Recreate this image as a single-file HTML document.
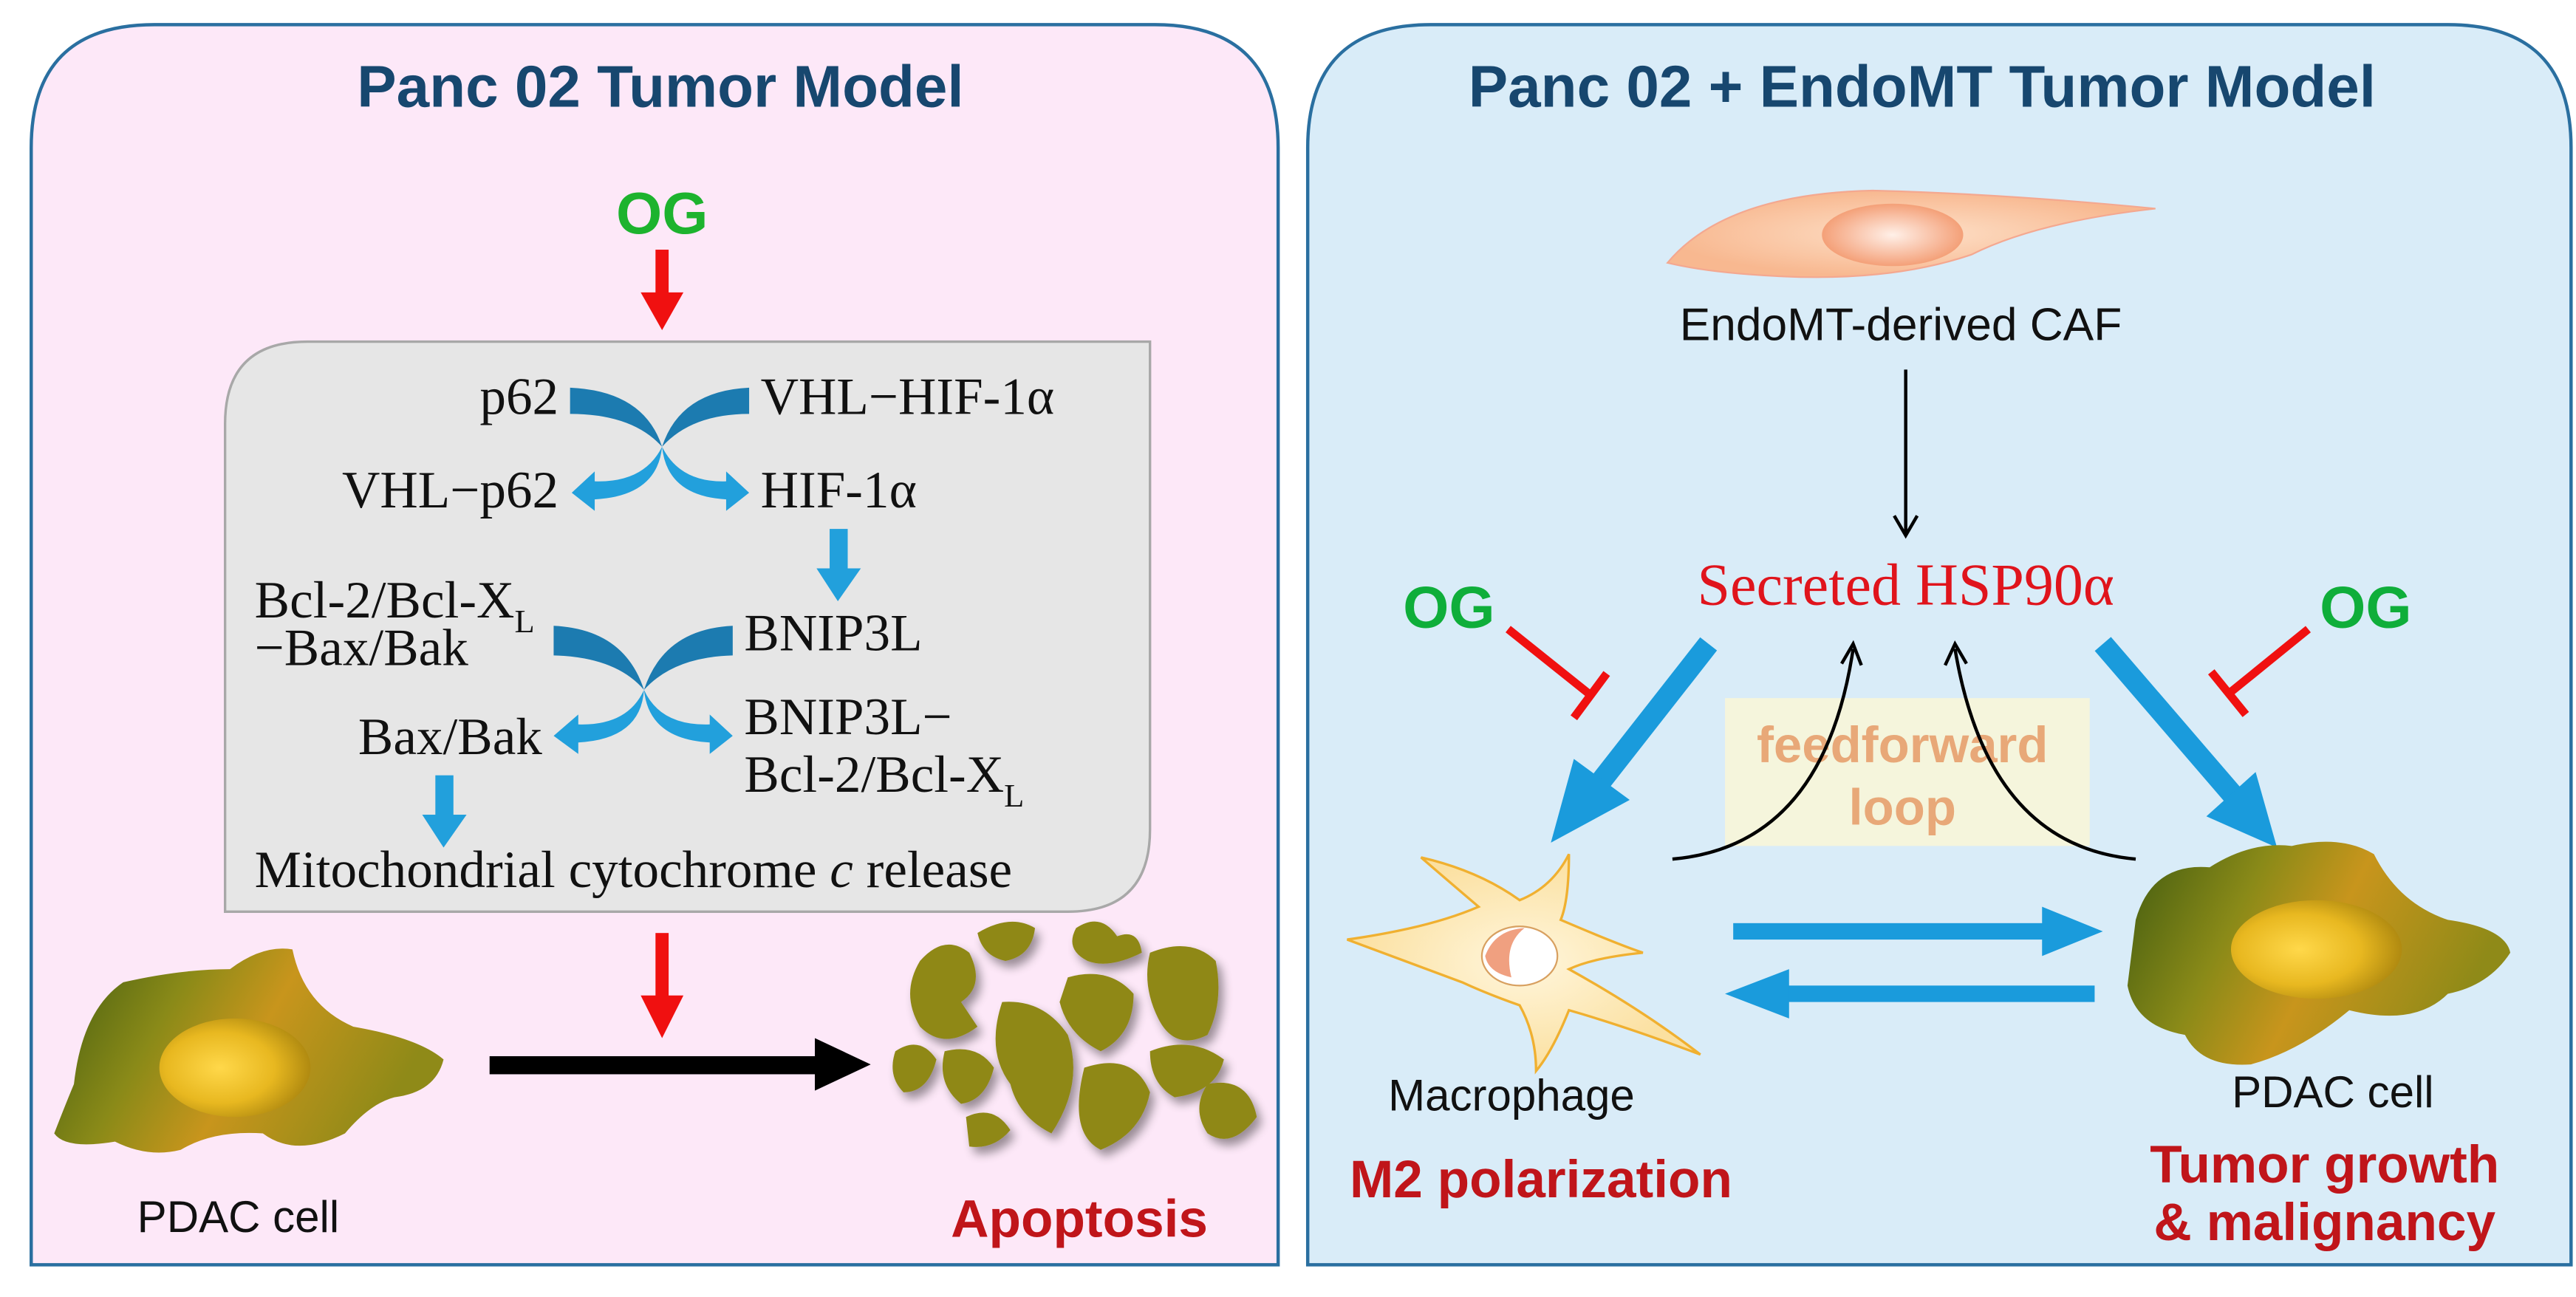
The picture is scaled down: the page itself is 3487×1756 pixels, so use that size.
<!DOCTYPE html>
<html><head><meta charset="utf-8"><style>html,body{margin:0;padding:0;background:#fff}svg{display:block}</style></head>
<body>
<svg width="3487" height="1756" viewBox="0 0 1568 789.6" preserveAspectRatio="none" xmlns="http://www.w3.org/2000/svg">
<defs>
<linearGradient id="cell" x1="0" y1="0" x2="1" y2="0.3">
<stop offset="0" stop-color="#3f5a10"/><stop offset="0.35" stop-color="#8a8a18"/><stop offset="0.6" stop-color="#c8951c"/><stop offset="1" stop-color="#8f8a18"/></linearGradient>
<radialGradient id="nuc" cx="0.4" cy="0.5" r="0.6"><stop offset="0" stop-color="#ffd84a"/><stop offset="0.6" stop-color="#e8b820"/><stop offset="1" stop-color="#b08a10"/></radialGradient>
<radialGradient id="caf" cx="0.5" cy="0.5" r="0.5"><stop offset="0" stop-color="#fde0c8"/><stop offset="1" stop-color="#f8b890"/></radialGradient>
<radialGradient id="cafn" cx="0.5" cy="0.5" r="0.5"><stop offset="0" stop-color="#fff0e8"/><stop offset="1" stop-color="#f4a078"/></radialGradient>
<radialGradient id="mac" cx="0.5" cy="0.5" r="0.5"><stop offset="0" stop-color="#fff6dc"/><stop offset="1" stop-color="#fbe0a0"/></radialGradient>
<filter id="sh" x="-20%" y="-20%" width="140%" height="140%"><feGaussianBlur in="SourceAlpha" stdDeviation="3"/><feOffset dx="3" dy="4"/><feComponentTransfer><feFuncA type="linear" slope="0.4"/></feComponentTransfer><feMerge><feMergeNode/><feMergeNode in="SourceGraphic"/></feMerge></filter>
</defs>
<path d="M19,770 L19,90 Q19,15 94,15 L703,15 Q778,15 778,90 L778,770 Z" fill="#fde8f8" stroke="#2a6fa0" stroke-width="2"/>
<path d="M796,770 L796,90 Q796,15 871,15 L1490,15 Q1565,15 1565,90 L1565,770 Z" fill="#d9ecf8" stroke="#2a6fa0" stroke-width="2"/>
<g font-family="Liberation Sans, sans-serif" font-weight="bold">
<text x="402" y="65" font-size="36" fill="#17476f" text-anchor="middle">Panc 02 Tumor Model</text>
<text x="1170" y="65" font-size="36" fill="#17476f" text-anchor="middle">Panc 02 + EndoMT Tumor Model</text>
<text x="403" y="142" font-size="36" fill="#1db32e" text-anchor="middle">OG</text>
<text x="882" y="382" font-size="36" fill="#0fae3a" text-anchor="middle">OG</text>
<text x="1440" y="382" font-size="36" fill="#0fae3a" text-anchor="middle">OG</text>
<text x="657" y="753" font-size="32" fill="#c0151a" text-anchor="middle">Apoptosis</text>
<text x="938" y="729" font-size="32" fill="#c0151a" text-anchor="middle">M2 polarization</text>
<text x="1415" y="720" font-size="32" fill="#c0151a" text-anchor="middle">Tumor growth</text>
<text x="1415" y="755" font-size="32" fill="#c0151a" text-anchor="middle">&amp; malignancy</text>
</g>
<rect x="399" y="152" width="8" height="28" fill="#f01010"/><polygon points="390,178 416,178 403,201" fill="#f01010"/>
<rect x="399" y="568" width="8" height="40" fill="#f01010"/><polygon points="390,606 416,606 403,632" fill="#f01010"/>
<path d="M137,555 L137,258 Q137,208 187,208 L700,208 L700,505 Q700,555 650,555 Z" fill="#e6e6e6" stroke="#a8a8a8" stroke-width="1.5"/>
<g font-family="Liberation Serif, serif" font-size="32" fill="#111">
<text x="340" y="252" text-anchor="end">p62</text>
<text x="463" y="252">VHL−HIF-1α</text>
<text x="340" y="309" text-anchor="end">VHL−p62</text>
<text x="463" y="309">HIF-1α</text>
<text x="155" y="376">Bcl-2/Bcl-X<tspan font-size="20" dy="9">L</tspan></text>
<text x="155" y="405">−Bax/Bak</text>
<text x="453" y="396">BNIP3L</text>
<text x="330" y="459" text-anchor="end">Bax/Bak</text>
<text x="453" y="447">BNIP3L−</text>
<text x="453" y="482">Bcl-2/Bcl-X<tspan font-size="20" dy="9">L</tspan></text>
<text x="155" y="540">Mitochondrial cytochrome <tspan font-style="italic">c</tspan> release</text>
</g>
<g>
<path d="M347,236 Q392,238 403,272 Q385,252 347,252 Z" fill="#1c7bb0"/>
<path d="M456,236 Q414,238 403,272 Q421,252 456,252 Z" fill="#1c7bb0"/>
<path d="M403,272 Q392,294 362,293 L362,287 L348,300 L362,311 L362,304 Q400,302 403,272 Z" fill="#22a0dc"/>
<path d="M403,272 Q414,294 442,293 L442,287 L456,300 L442,311 L442,304 Q406,302 403,272 Z" fill="#22a0dc"/>
<path d="M337,381 Q380,383 392,420 Q375,400 337,399 Z" fill="#1c7bb0"/>
<path d="M446,381 Q404,383 392,420 Q410,400 446,399 Z" fill="#1c7bb0"/>
<path d="M392,420 Q382,442 352,441 L352,435 L337,448 L352,459 L352,452 Q390,450 392,420 Z" fill="#22a0dc"/>
<path d="M392,420 Q402,442 432,441 L432,435 L446,448 L432,459 L432,452 Q395,450 392,420 Z" fill="#22a0dc"/>
<rect x="505" y="322" width="11" height="26" fill="#22a0dc"/><polygon points="497,346 524,346 510,366" fill="#22a0dc"/>
<rect x="265" y="472" width="11" height="26" fill="#22a0dc"/><polygon points="257,496 284,496 270,516" fill="#22a0dc"/>
</g>
<rect x="298" y="643" width="200" height="11" fill="#000"/><polygon points="496,632 530,648 496,664" fill="#000"/>
<!-- left PDAC cell -->
<path d="M45,660 Q50,615 75,598 Q110,590 140,590 Q160,575 178,578 Q185,612 215,625 Q255,632 270,645 Q265,665 240,668 Q225,672 210,690 Q180,705 160,690 Q130,688 110,700 Q90,705 70,695 Q40,700 33,690 Q40,672 45,660Z" fill="url(#cell)"/>
<ellipse cx="143" cy="650" rx="46" ry="30" fill="url(#nuc)"/>
<text x="145" y="750" font-family="Liberation Sans, sans-serif" font-size="27" fill="#111" text-anchor="middle">PDAC cell</text>
<g fill="#8f8818" filter="url(#sh)">
<path d="M560,585 Q575,568 590,580 Q600,600 585,610 L595,625 Q575,640 560,625 Q548,605 560,585Z"/>
<path d="M595,568 Q615,556 630,565 Q628,582 612,585 Q598,582 595,568Z"/>
<path d="M655,565 Q670,555 680,570 Q693,565 695,580 Q675,590 662,585 Q648,578 655,565Z"/>
<path d="M700,580 Q725,570 740,585 Q745,610 735,630 Q715,640 705,620 Q695,600 700,580Z"/>
<path d="M650,595 Q675,588 690,605 Q690,630 670,640 Q650,630 645,610Z"/>
<path d="M610,610 Q635,608 650,630 Q660,660 640,690 Q620,680 615,660 Q600,640 610,610Z"/>
<path d="M575,640 Q595,635 605,650 Q600,670 585,672 Q570,660 575,640Z"/>
<path d="M660,650 Q690,640 700,665 Q695,690 670,700 Q650,690 660,650Z"/>
<path d="M700,640 Q725,630 745,645 Q740,665 715,668 Q700,660 700,640Z"/>
<path d="M735,660 Q760,655 765,680 Q750,700 735,690 Q725,675 735,660Z"/>
<path d="M588,680 Q605,672 615,688 Q605,700 590,698Z"/>
<path d="M545,640 Q560,630 570,645 Q565,665 550,665 Q540,655 545,640Z"/>
</g>
<!-- CAF -->
<path d="M1015,160 Q1050,118 1140,116 Q1220,118 1312,127 Q1240,135 1200,155 Q1150,172 1080,168 Q1040,166 1015,160Z" fill="url(#caf)" stroke="#f4a890" stroke-width="1"/>
<ellipse cx="1152" cy="143" rx="43" ry="19" fill="url(#cafn)"/>
<g font-family="Liberation Sans, sans-serif" fill="#111" text-anchor="middle">
<text x="1157" y="207" font-size="28">EndoMT-derived CAF</text>
<text x="920" y="676" font-size="27">Macrophage</text>
<text x="1420" y="674" font-size="27">PDAC cell</text>
</g>
<line x1="1160" y1="225" x2="1160" y2="324" stroke="#000" stroke-width="2"/>
<path d="M1153,314 L1160,326 L1167,314" fill="none" stroke="#000" stroke-width="2"/>
<text x="1160" y="368" font-family="Liberation Serif, serif" font-size="36" fill="#e0141c" text-anchor="middle">Secreted HSP90α</text>
<rect x="1050" y="425" width="222" height="90" fill="#f5f5dc"/>
<g font-family="Liberation Sans, sans-serif" font-size="31" fill="#e8a878" text-anchor="middle" font-weight="bold">
<text x="1158" y="464">feedforward</text>
<text x="1158" y="502">loop</text>
</g>
<line x1="1040" y1="392" x2="975" y2="475" stroke="#1a9bdc" stroke-width="13"/>
<polygon points="944,513 958,462 992,487" fill="#1a9bdc"/>
<line x1="1280" y1="392" x2="1360" y2="485" stroke="#1a9bdc" stroke-width="13"/>
<polygon points="1386,516 1343,497 1373,470" fill="#1a9bdc"/>
<line x1="918" y1="383" x2="968" y2="423" stroke="#f01010" stroke-width="5"/>
<line x1="958" y1="437" x2="978" y2="410" stroke="#f01010" stroke-width="5"/>
<line x1="1405" y1="383" x2="1357" y2="422" stroke="#f01010" stroke-width="5"/>
<line x1="1346" y1="409" x2="1367" y2="435" stroke="#f01010" stroke-width="5"/>
<path d="M1018,523 Q1110,515 1128,395" fill="none" stroke="#000" stroke-width="2"/>
<path d="M1121,404 L1128,392 L1133,405" fill="none" stroke="#000" stroke-width="2"/>
<path d="M1300,523 Q1210,515 1190,395" fill="none" stroke="#000" stroke-width="2"/>
<path d="M1184,405 L1190,392 L1197,404" fill="none" stroke="#000" stroke-width="2"/>
<rect x="1055" y="562" width="190" height="10" fill="#1a9bdc"/><polygon points="1243,552 1280,567 1243,582" fill="#1a9bdc"/>
<rect x="1087" y="600" width="188" height="10" fill="#1a9bdc"/><polygon points="1089,590 1050,605 1089,620" fill="#1a9bdc"/>
<path d="M820,572 Q870,565 900,552 Q880,535 865,522 Q900,530 925,548 Q945,540 955,520 Q955,548 950,560 Q985,575 1000,580 Q970,583 955,590 Q1000,615 1035,642 Q990,625 955,615 Q945,640 935,652 Q935,630 925,612 Q905,605 890,598 Z" fill="url(#mac)" stroke="#f0b030" stroke-width="1.5"/>
<ellipse cx="925" cy="582" rx="23" ry="18" fill="#fff" stroke="#d8a060"/>
<path d="M904,582 Q910,566 928,565 Q915,575 920,595 Q906,592 904,582Z" fill="#f0a080"/>
<path d="M1300,560 Q1310,525 1345,528 Q1370,512 1395,515 Q1425,508 1445,520 Q1460,550 1490,560 Q1525,565 1528,580 Q1515,600 1490,605 Q1470,625 1430,615 Q1400,640 1370,648 Q1340,650 1330,630 Q1300,625 1295,600 Z" fill="url(#cell)"/>
<ellipse cx="1410" cy="578" rx="52" ry="30" fill="url(#nuc)"/>
</svg>
</body></html>
